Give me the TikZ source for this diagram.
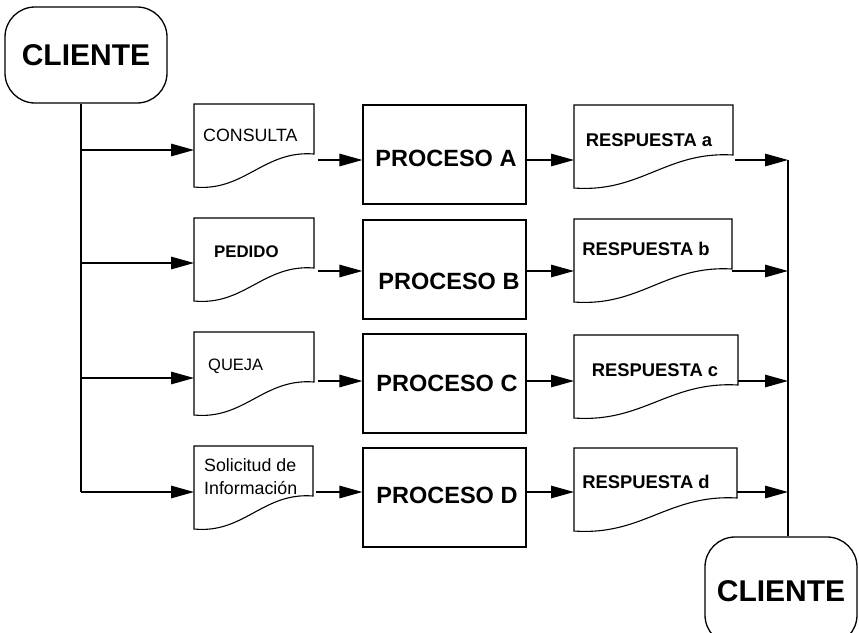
\documentclass[tikz,border=0pt]{standalone}
\usepackage{fontspec}
\setmainfont{Liberation Sans}
\usetikzlibrary{arrows.meta}

% document symbol: #1 name, #2 left, #3 top, #4 right
\newcommand\docshape[4]{%
  \draw[docline] ({#2},{#3}) coordinate (#1-nw) -- ({#4},{#3}) coordinate (#1-ne)
    -- ({#4},{#3+50}) coordinate (#1-se)
    .. controls ({#4-0.42*(#4-#2)},{#3+46}) and ({#2+0.42*(#4-#2)},{#3+88}) ..
    ({#2},{#3+83}) coordinate (#1-sw) -- cycle;}

\begin{document}
\begin{tikzpicture}[x=1pt,y=-1pt,
  wire/.style={line width=1.3pt},
  flow/.style={line width=1.3pt,-{Triangle[length=23pt,width=12.5pt]}},
  docline/.style={line width=1.1pt},
  procbox/.style={draw,line width=1.2pt,minimum width=163pt,minimum height=99pt,inner sep=0pt},
  term/.style={draw,line width=1.3pt,rounded corners=30pt,inner sep=0pt,
    font=\fontsize{30}{31}\selectfont\bfseries},
  proctext/.style={font=\fontsize{23.5}{25}\selectfont\bfseries,inner sep=0pt},
  resptext/.style={font=\fontsize{18.4}{20}\selectfont\bfseries,inner sep=0pt},
  doctext/.style={font=\fontsize{17.8}{23}\selectfont,inner sep=0pt,anchor=west,align=left}]
\useasboundingbox (0,0) rectangle (859,632);
\fill[white] (0,0) rectangle (859,632);

% terminators
\node[term,minimum width=162pt,minimum height=96pt] (cliA) at (86,55) {CLIENTE};
\begin{scope}
  \clip (0,0) rectangle (859,632);
  \node[term,minimum width=152pt,minimum height=108pt] (cliB) at (781,591) {CLIENTE};
\end{scope}

% incoming documents
\docshape{dA}{194}{104}{314}
\docshape{dB}{194}{218}{314}
\docshape{dC}{194}{332}{314}
\docshape{dD}{194}{446}{313}
\node[doctext] (tA) at (203,135) {CONSULTA};
\node[doctext,font=\fontsize{16.8}{18}\selectfont\bfseries] (tB) at (214,252) {PEDIDO};
\node[doctext,font=\fontsize{16.5}{18}\selectfont] (tC) at (208,366) {QUEJA};
\node[doctext] (tD) at (204,477) {Solicitud de\\Información};

% processes
\node[procbox] (pA) at (444.5,154.5) {};
\node[procbox] (pB) at (444.5,269.5) {};
\node[procbox] (pC) at (444.5,383.5) {};
\node[procbox] (pD) at (444.5,497.5) {};
\node[proctext] (lA) at (446,158) {PROCESO A};
\node[proctext] (lB) at (449,281) {PROCESO B};
\node[proctext] (lC) at (447,383) {PROCESO C};
\node[proctext] (lD) at (447,495) {PROCESO D};

% answers
\docshape{rA}{574}{105}{733}
\docshape{rB}{574}{219}{732}
\docshape{rC}{574}{335}{738}
\docshape{rD}{574}{448}{737}
\node[resptext] (sA) at (649,140) {RESPUESTA a};
\node[resptext] (sB) at (646,249) {RESPUESTA b};
\node[resptext] (sC) at (655,370) {RESPUESTA c};
\node[resptext] (sD) at (646,482) {RESPUESTA d};

% left distribution bus
\coordinate (b1) at (81,150);
\coordinate (b2) at (81,263);
\coordinate (b3) at (81,378);
\coordinate (b4) at (81,492);
\draw[wire] (b4) -- (b4 |- cliA.south);
\draw[flow] (b1) -- (b1 -| dA-nw);
\draw[flow] (b2) -- (b2 -| dB-nw);
\draw[flow] (b3) -- (b3 -| dC-nw);
\draw[flow] (b4) -- (b4 -| dD-nw);

% documents to processes
\coordinate (m1) at (318,160);
\coordinate (m2) at (318,271);
\coordinate (m3) at (318,381);
\coordinate (m4) at (316,492);
\draw[flow] (m1) -- (m1 -| pA.west);
\draw[flow] (m2) -- (m2 -| pB.west);
\draw[flow] (m3) -- (m3 -| pC.west);
\draw[flow] (m4) -- (m4 -| pD.west);

% processes to answers
\draw[flow] (pA.east |- m1) -- (m1 -| rA-nw);
\draw[flow] (pB.east |- m2) -- (m2 -| rB-nw);
\draw[flow] (pC.east |- m3) -- (m3 -| rC-nw);
\draw[flow] (pD.east |- m4) -- (m4 -| rD-nw);

% right collecting bus
\coordinate (e1) at (788,160);
\coordinate (e2) at (788,271);
\coordinate (e3) at (788,381);
\coordinate (e4) at (788,492);
\draw[wire] (e1) -- (e1 |- cliB.north);
\draw[flow] (e1 -| rA-ne) ++(2,0) -- (e1);
\draw[flow] (e2 -| rB-ne) -- (e2);
\draw[flow] (e3 -| rC-ne) -- (e3);
\draw[flow] (e4 -| rD-ne) -- (e4);
\end{tikzpicture}
\end{document}
